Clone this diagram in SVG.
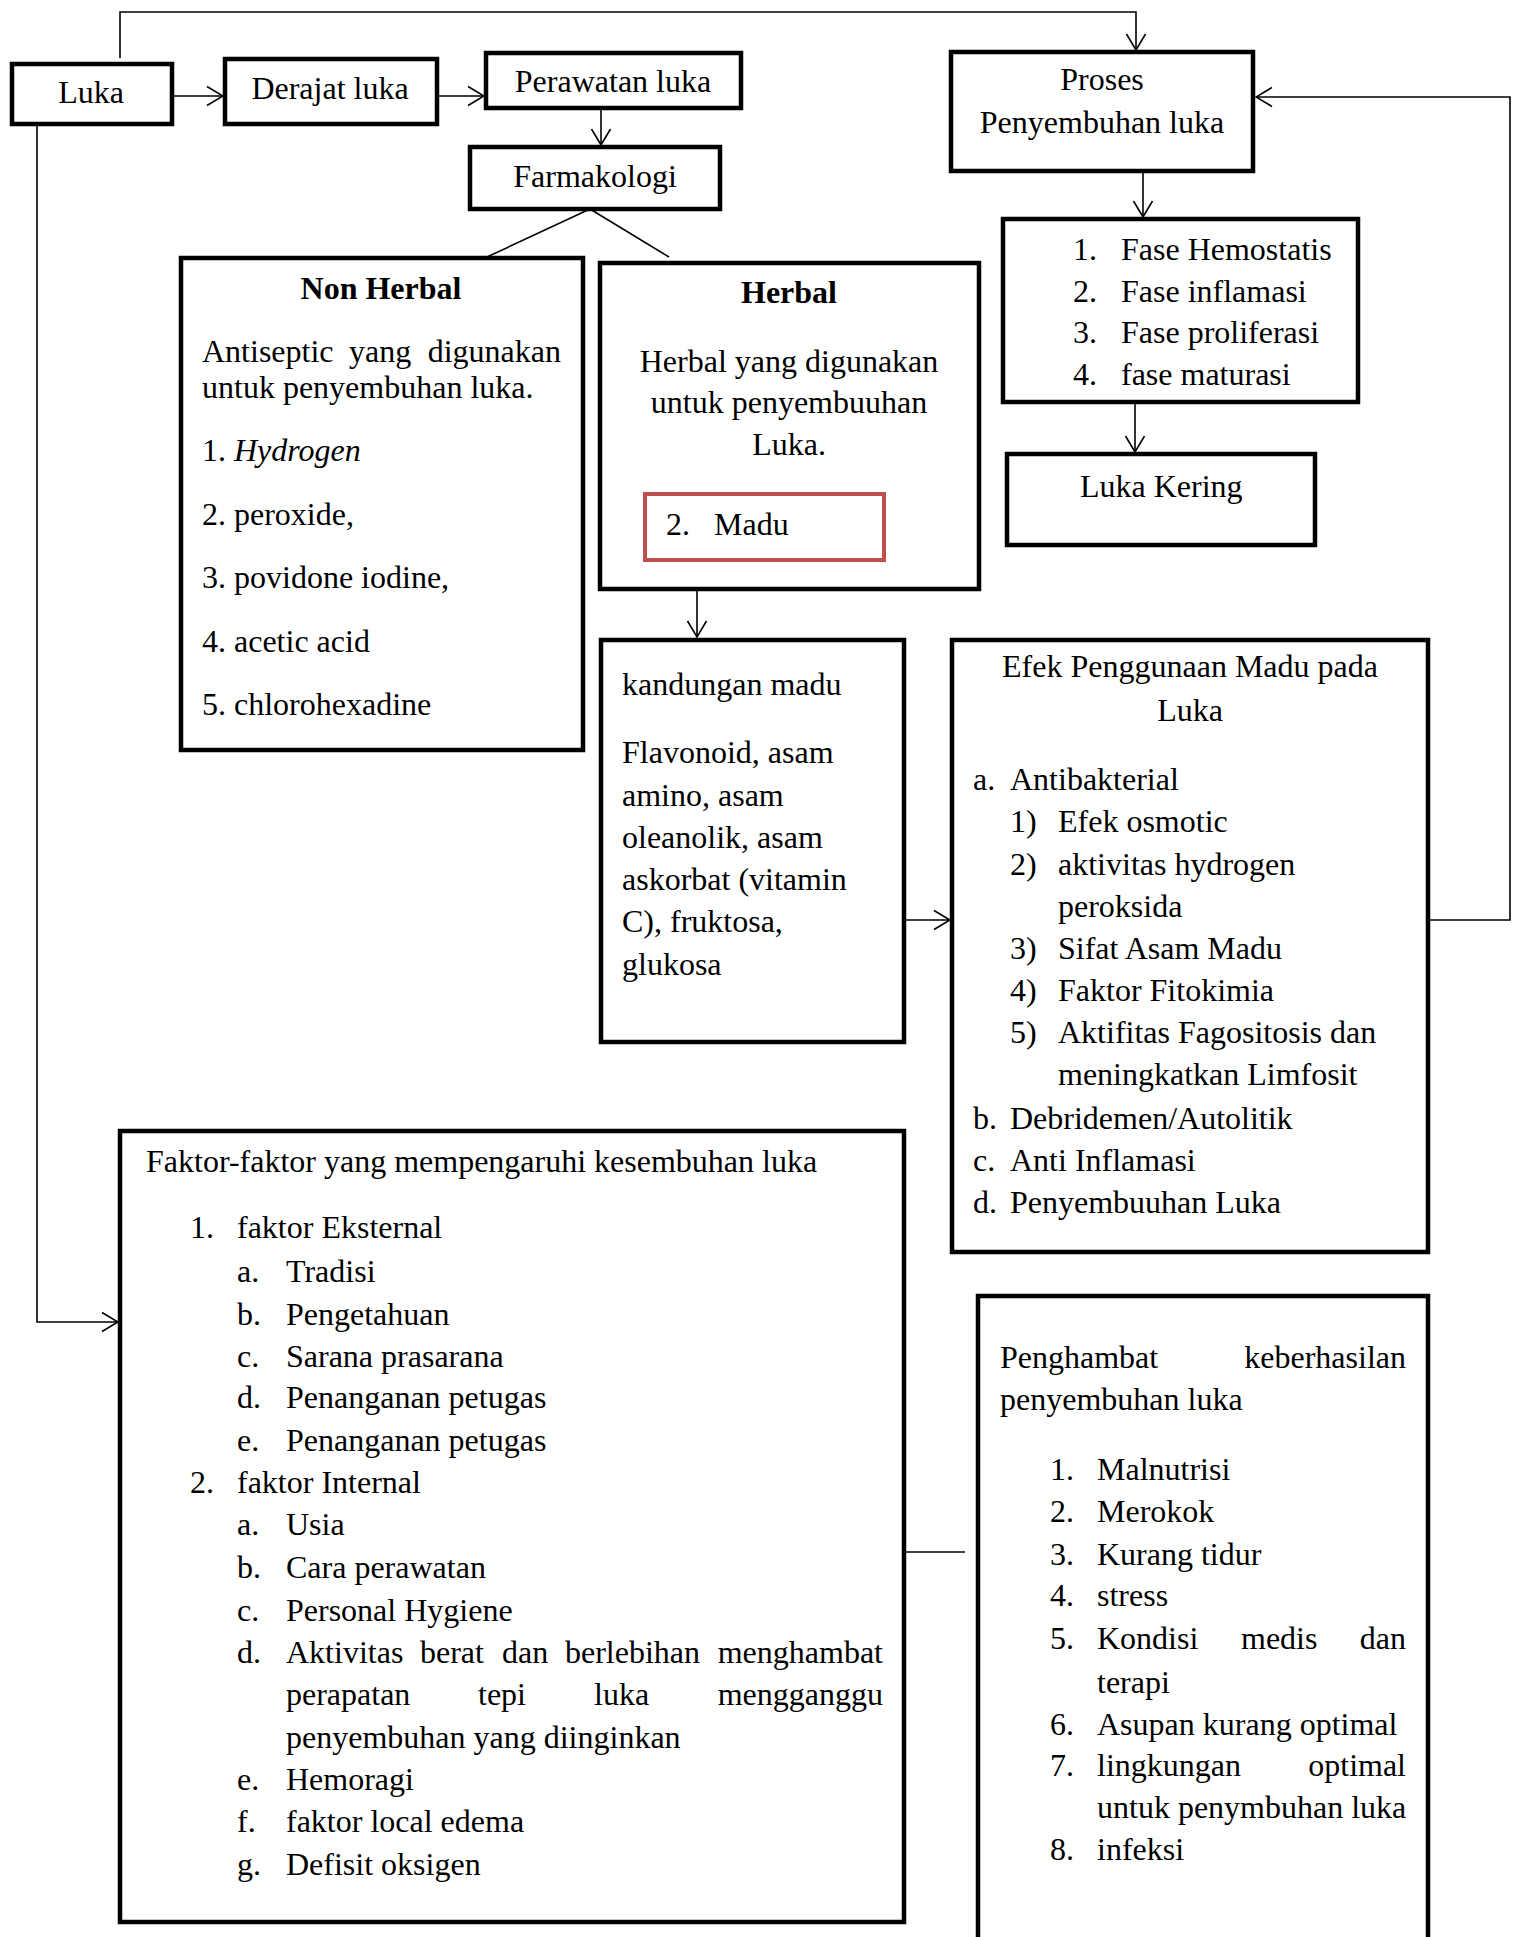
<svg xmlns="http://www.w3.org/2000/svg" width="1513" height="1937" viewBox="0 0 1513 1937">
<style>
.t{font-family:"Liberation Serif","Times New Roman",serif;font-size:32px;fill:#000}
.c{text-anchor:middle}
.e{text-anchor:end}
.b{font-weight:bold}
.i{font-style:italic}
.box{fill:#fff;stroke:#000;stroke-width:4.5}
.red{fill:none;stroke:#C0504D;stroke-width:4}
.conn{fill:none;stroke:#000;stroke-width:1.6}
</style>
<defs>
<marker id="arr" viewBox="0 0 18 22" refX="17" refY="11" markerWidth="18" markerHeight="22" markerUnits="userSpaceOnUse" orient="auto">
<path d="M1,1.5 L17,11 L1,20.5" fill="none" stroke="#000" stroke-width="1.6"/>
</marker>
</defs>
<rect x="0" y="0" width="1513" height="1937" fill="#fff"/>

<g id="connectors">
<path class="conn" d="M120,58 V12 H1136 V50" marker-end="url(#arr)"/>
<path class="conn" d="M172,96 H223" marker-end="url(#arr)"/>
<path class="conn" d="M437,96 H484" marker-end="url(#arr)"/>
<path class="conn" d="M601,108 V145" marker-end="url(#arr)"/>
<path class="conn" d="M590,209 L487,257"/>
<path class="conn" d="M590,209 L669,257"/>
<path class="conn" d="M1143,171 V217" marker-end="url(#arr)"/>
<path class="conn" d="M1135,402 V452" marker-end="url(#arr)"/>
<path class="conn" d="M697,589 V637" marker-end="url(#arr)"/>
<path class="conn" d="M904,920 H950" marker-end="url(#arr)"/>
<path class="conn" d="M1428,920 H1510 V97 H1256" marker-end="url(#arr)"/>
<path class="conn" d="M37,124 V1322 H118" marker-end="url(#arr)"/>
<path class="conn" d="M904,1552 H965"/>
</g>

<g id="luka">
<rect class="box" x="12" y="64" width="160" height="60"/>
<text class="t c" x="91" y="103">Luka</text>
</g>
<g id="derajat-luka">
<rect class="box" x="225" y="59" width="212" height="65"/>
<text class="t c" x="330" y="99">Derajat luka</text>
</g>
<g id="perawatan-luka">
<rect class="box" x="486" y="53" width="255" height="55"/>
<text class="t c" x="613" y="92">Perawatan luka</text>
</g>
<g id="farmakologi">
<rect class="box" x="470" y="147" width="250" height="62"/>
<text class="t c" x="595" y="187">Farmakologi</text>
</g>
<g id="proses">
<rect class="box" x="951" y="52" width="302" height="119"/>
<text class="t c" x="1102" y="90">Proses</text>
<text class="t c" x="1102" y="133">Penyembuhan luka</text>
</g>
<g id="fase">
<rect class="box" x="1003" y="219" width="355" height="183"/>
<text class="t" x="1073" y="260">1.</text><text class="t" x="1121" y="260">Fase Hemostatis</text>
<text class="t" x="1073" y="302">2.</text><text class="t" x="1121" y="302">Fase inflamasi</text>
<text class="t" x="1073" y="343">3.</text><text class="t" x="1121" y="343">Fase proliferasi</text>
<text class="t" x="1073" y="385">4.</text><text class="t" x="1121" y="385">fase maturasi</text>
</g>
<g id="luka-kering">
<rect class="box" x="1007" y="454" width="308" height="91"/>
<text class="t" x="1080" y="497">Luka Kering</text>
</g>
<g id="non-herbal">
<rect class="box" x="181" y="258" width="402" height="492"/>
<text class="t c b" x="381" y="299">Non Herbal</text>
<text class="t" x="202" y="362">Antiseptic</text>
<text class="t" x="349" y="362">yang</text>
<text class="t e" x="561" y="362">digunakan</text>
<text class="t" x="202" y="398">untuk penyembuhan luka.</text>
<text class="t" x="202" y="461">1. <tspan class="i">Hydrogen</tspan></text>
<text class="t" x="202" y="525">2. peroxide,</text>
<text class="t" x="202" y="588">3. povidone iodine,</text>
<text class="t" x="202" y="652">4. acetic acid</text>
<text class="t" x="202" y="715">5. chlorohexadine</text>
</g>
<g id="herbal">
<rect class="box" x="600" y="263" width="379" height="326"/>
<text class="t c b" x="789" y="303">Herbal</text>
<text class="t c" x="789" y="372">Herbal yang digunakan</text>
<text class="t c" x="789" y="413">untuk penyembuuhan</text>
<text class="t c" x="789" y="455">Luka.</text>
<rect class="red" x="645" y="494" width="239" height="66"/>
<text class="t" x="666" y="535">2.</text><text class="t" x="714" y="535">Madu</text>
</g>
<g id="kandungan-madu">
<rect class="box" x="601" y="640" width="303" height="402"/>
<text class="t" x="622" y="695">kandungan madu</text>
<text class="t" x="622" y="763">Flavonoid, asam</text>
<text class="t" x="622" y="806">amino, asam</text>
<text class="t" x="622" y="848">oleanolik, asam</text>
<text class="t" x="622" y="890">askorbat (vitamin</text>
<text class="t" x="622" y="932">C), fruktosa,</text>
<text class="t" x="622" y="975">glukosa</text>
</g>
<g id="efek-madu">
<rect class="box" x="952" y="640" width="476" height="612"/>
<text class="t c" x="1190" y="677">Efek Penggunaan Madu pada</text>
<text class="t c" x="1190" y="721">Luka</text>
<text class="t" x="973" y="790">a.</text><text class="t" x="1010" y="790">Antibakterial</text>
<text class="t" x="1010" y="832">1)</text><text class="t" x="1058" y="832">Efek osmotic</text>
<text class="t" x="1010" y="875">2)</text><text class="t" x="1058" y="875">aktivitas hydrogen</text>
<text class="t" x="1058" y="917">peroksida</text>
<text class="t" x="1010" y="959">3)</text><text class="t" x="1058" y="959">Sifat Asam Madu</text>
<text class="t" x="1010" y="1001">4)</text><text class="t" x="1058" y="1001">Faktor Fitokimia</text>
<text class="t" x="1010" y="1043">5)</text><text class="t" x="1058" y="1043">Aktifitas Fagositosis dan</text>
<text class="t" x="1058" y="1085">meningkatkan Limfosit</text>
<text class="t" x="973" y="1129">b.</text><text class="t" x="1010" y="1129">Debridemen/Autolitik</text>
<text class="t" x="973" y="1171">c.</text><text class="t" x="1010" y="1171">Anti Inflamasi</text>
<text class="t" x="973" y="1213">d.</text><text class="t" x="1010" y="1213">Penyembuuhan Luka</text>
</g>
<g id="faktor">
<rect class="box" x="120" y="1131" width="784" height="791"/>
<text class="t" x="146" y="1172">Faktor-faktor yang mempengaruhi kesembuhan luka</text>
<text class="t" x="190" y="1238">1.</text><text class="t" x="237" y="1238">faktor Eksternal</text>
<text class="t" x="237" y="1282">a.</text><text class="t" x="286" y="1282">Tradisi</text>
<text class="t" x="237" y="1325">b.</text><text class="t" x="286" y="1325">Pengetahuan</text>
<text class="t" x="237" y="1367">c.</text><text class="t" x="286" y="1367">Sarana prasarana</text>
<text class="t" x="237" y="1408">d.</text><text class="t" x="286" y="1408">Penanganan petugas</text>
<text class="t" x="237" y="1451">e.</text><text class="t" x="286" y="1451">Penanganan petugas</text>
<text class="t" x="190" y="1493">2.</text><text class="t" x="237" y="1493">faktor Internal</text>
<text class="t" x="237" y="1535">a.</text><text class="t" x="286" y="1535">Usia</text>
<text class="t" x="237" y="1578">b.</text><text class="t" x="286" y="1578">Cara perawatan</text>
<text class="t" x="237" y="1621">c.</text><text class="t" x="286" y="1621">Personal Hygiene</text>
<text class="t" x="237" y="1663">d.</text>
<text class="t" x="286" y="1663">Aktivitas</text>
<text class="t" x="420" y="1663">berat</text>
<text class="t" x="502" y="1663">dan</text>
<text class="t" x="565" y="1663">berlebihan</text>
<text class="t e" x="883" y="1663">menghambat</text>
<text class="t" x="286" y="1705">perapatan</text>
<text class="t" x="478" y="1705">tepi</text>
<text class="t" x="594" y="1705">luka</text>
<text class="t e" x="883" y="1705">mengganggu</text>
<text class="t" x="286" y="1748">penyembuhan yang diinginkan</text>
<text class="t" x="237" y="1790">e.</text><text class="t" x="286" y="1790">Hemoragi</text>
<text class="t" x="237" y="1832">f.</text><text class="t" x="286" y="1832">faktor local edema</text>
<text class="t" x="237" y="1875">g.</text><text class="t" x="286" y="1875">Defisit oksigen</text>
</g>
<g id="penghambat">
<rect class="box" x="978" y="1296" width="450" height="700"/>
<text class="t" x="1000" y="1368">Penghambat</text>
<text class="t e" x="1406" y="1368">keberhasilan</text>
<text class="t" x="1000" y="1410">penyembuhan luka</text>
<text class="t" x="1050" y="1480">1.</text><text class="t" x="1097" y="1480">Malnutrisi</text>
<text class="t" x="1050" y="1522">2.</text><text class="t" x="1097" y="1522">Merokok</text>
<text class="t" x="1050" y="1565">3.</text><text class="t" x="1097" y="1565">Kurang tidur</text>
<text class="t" x="1050" y="1606">4.</text><text class="t" x="1097" y="1606">stress</text>
<text class="t" x="1050" y="1649">5.</text>
<text class="t" x="1097" y="1649">Kondisi</text>
<text class="t" x="1241" y="1649">medis</text>
<text class="t e" x="1406" y="1649">dan</text>
<text class="t" x="1097" y="1693">terapi</text>
<text class="t" x="1050" y="1735">6.</text><text class="t" x="1097" y="1735">Asupan kurang optimal</text>
<text class="t" x="1050" y="1776">7.</text>
<text class="t" x="1097" y="1776">lingkungan</text>
<text class="t e" x="1406" y="1776">optimal</text>
<text class="t" x="1097" y="1818">untuk penymbuhan luka</text>
<text class="t" x="1050" y="1860">8.</text><text class="t" x="1097" y="1860">infeksi</text>
</g>
</svg>
